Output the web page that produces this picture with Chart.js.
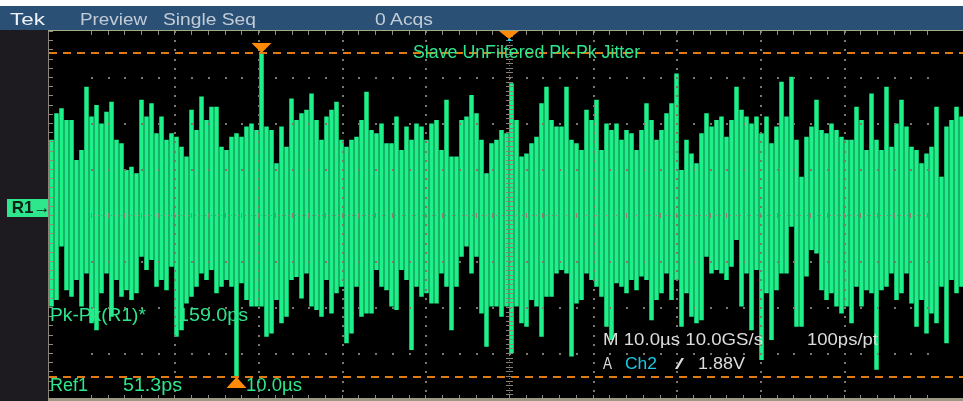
<!DOCTYPE html>
<html>
<head>
<meta charset="utf-8">
<script src="https://cdn.jsdelivr.net/npm/chart.js@4.4.1/dist/chart.umd.min.js"></script>
<style>
  html, body { margin: 0; padding: 0; width: 963px; height: 401px; overflow: hidden; background: #ffffff; }
  #wrap { position: relative; width: 963px; height: 401px; overflow: hidden; }
  #hdr { position: absolute; left: 0; top: 6px; width: 963px; height: 24px; background: #2a5076; }
  #side { position: absolute; left: 0; top: 30px; width: 49px; height: 371px; background: #1e1b20; }
  #scope { position: absolute; left: 0; top: 0; z-index: 1; }
  .t { position: absolute; z-index: 2; white-space: nowrap; line-height: 1;
       font-family: "Liberation Sans", Arial, sans-serif; transform-origin: 0 0; }
  .hd { font-size: 17px; color: #c3ccd6; }
  .gr { font-size: 18px; color: #2ee68c; }
  .wh { font-size: 17px; color: #dcdcdc; }
  #r1 { position: absolute; z-index: 2; left: 7px; top: 199px; width: 41px; height: 18px; background: #2ee68c;
        color: #0e1f17; font: bold 17px "Liberation Sans", Arial, sans-serif; line-height: 18px; }
</style>
</head>
<body>
<div id="wrap">
  <div id="hdr"></div>
  <div id="side"></div>
  <canvas id="scope" width="980" height="401"></canvas>

  <span class="t hd" style="left:10px;top:11px;color:#eef2f7" data-w="35">Tek</span>
  <span class="t hd" style="left:80px;top:11px" data-w="67">Preview</span>
  <span class="t hd" style="left:163px;top:11px" data-w="93">Single Seq</span>
  <span class="t hd" style="left:375px;top:11px" data-w="58">0 Acqs</span>

  <span class="t gr" style="left:413px;top:43px" data-w="227">Slave UnFiltered Pk-Pk Jitter</span>
  <span class="t gr" style="left:50px;top:306px" data-w="96">Pk-Pk(R1)*</span>
  <span class="t gr" style="left:178px;top:306px" data-w="70">159.0ps</span>
  <span class="t gr" style="left:50px;top:376px" data-w="38">Ref1</span>
  <span class="t gr" style="left:123px;top:376px" data-w="59">51.3ps</span>
  <span class="t gr" style="left:246px;top:376px" data-w="56">10.0µs</span>

  <span class="t wh" style="left:603px;top:331px" data-w="160">M 10.0µs 10.0GS/s</span>
  <span class="t wh" style="left:807px;top:331px" data-w="71">100ps/pt</span>
  <span class="t wh" style="left:603px;top:355px" data-w="9">A</span>
  <span class="t wh" style="left:625px;top:355px;color:#1ec8e6" data-w="32">Ch2</span>
  <span class="t wh" style="left:675px;top:356px;font-size:15px" data-w="9">/</span>
  <span class="t wh" style="left:698px;top:355px" data-w="47">1.88V</span>

  <div id="r1">&nbsp;R1&#x2192;</div>
</div>

<script>
// Jitter trend record R1: per-column peak values (ps), 184 columns across 10 divisions.
const jitterHigh = [
  36.9, 49.9, 52.4, 46.6, 46.6, 27.0, 31.9, 63.0, 48.3, 54.0, 44.9, 50.7, 55.6, 36.9, 35.2, 22.1,
  23.7, 20.5, 56.5, 48.3, 54.8, 40.1, 48.3, 36.9, 40.1, 38.4, 33.5, 28.7, 51.6, 41.7, 58.1, 46.6,
  53.1, 53.1, 33.5, 31.9, 38.4, 40.1, 38.4, 43.4, 44.9, 41.7, 79.5, 43.4, 41.7, 25.4,
  43.4, 33.5, 57.2, 46.6, 49.9, 51.6, 59.6, 46.6, 36.9, 48.3, 51.6, 55.6, 36.9, 33.5, 36.9, 38.4,
  46.6, 60.5, 41.7, 40.1, 44.9, 35.2, 35.2, 48.3, 31.9, 43.4, 36.9, 44.9, 43.4, 36.9, 44.9, 46.6,
  31.9, 56.5, 28.7, 28.7, 46.6, 48.3, 58.9, 49.9, 36.9, 20.5, 35.2, 36.9, 41.7, 40.1,
  64.6, 46.6, 28.7, 30.2, 35.2, 38.4, 54.8, 63.0, 46.6, 43.4, 43.4, 63.0, 36.9, 35.2, 31.9, 51.6,
  46.6, 56.5, 31.9, 44.9, 41.7, 44.9, 36.9, 41.7, 40.1, 31.9, 41.7, 54.8, 46.6, 36.9, 41.7, 49.9,
  54.8, 69.5, 22.1, 36.9, 30.2, 25.4, 40.1, 49.9, 43.4, 46.6, 48.3, 38.4, 46.6, 63.0,
  51.6, 48.3, 44.9, 48.3, 40.1, 48.3, 35.2, 43.4, 65.4, 48.3, 67.9, 36.9, 18.8, 38.4, 43.4, 56.5,
  41.7, 40.1, 44.9, 41.7, 38.4, 36.9, 36.9, 53.1, 46.6, 31.9, 59.6, 36.9, 31.9, 63.0, 33.5, 44.9,
  56.5, 43.4, 33.5, 31.9, 25.4, 30.2, 33.5, 53.1, 18.8, 43.4, 46.6, 53.1, 48.3, 36.9
];
const jitterLow = [
  -44.9, -41.7, -15.5, -36.9, -40.1, -31.9, -44.9, -28.7, -53.1, -56.5, -38.4, -28.7, -49.9, -31.9, -40.1, -36.9,
  -41.7, -38.4, -20.5, -27.0, -22.1, -35.2, -31.9, -36.9, -25.4, -59.7, -56.5, -43.4, -40.1, -35.2, -28.7, -31.9,
  -27.0, -38.4, -35.2, -31.9, -35.2, -79.5, -33.5, -41.7, -44.9, -44.9, -44.9, -59.7, -58.1, -41.7,
  -53.1, -49.9, -31.9, -30.4, -41.0, -28.7, -44.9, -46.6, -49.9, -31.9, -48.3, -38.4, -35.2, -63.0, -58.1, -35.2,
  -49.9, -48.3, -48.3, -27.0, -35.2, -36.9, -44.9, -46.6, -27.0, -31.9, -66.3, -35.2, -40.1, -38.4, -43.4, -43.4,
  -28.7, -35.2, -56.5, -35.2, -20.5, -15.5, -28.7, -20.5, -48.3, -64.6, -44.9, -44.9, -49.9, -44.9,
  -67.9, -44.9, -53.1, -54.8, -41.7, -44.9, -59.7, -40.1, -40.1, -28.7, -27.0, -28.7, -69.5, -43.4, -41.7, -28.7,
  -31.9, -35.2, -40.1, -54.8, -61.3, -33.5, -35.2, -38.4, -31.9, -36.9, -30.2, -31.9, -51.6, -41.7, -38.4, -28.7,
  -41.7, -31.9, -54.8, -38.4, -49.9, -53.1, -51.6, -20.5, -28.7, -27.0, -28.7, -31.9, -25.4, -12.3,
  -44.9, -28.7, -56.5, -27.0, -71.2, -38.4, -61.3, -36.9, -28.7, -28.7, -5.8, -54.8, -54.8, -30.2, -17.2, -18.9,
  -36.9, -41.7, -38.4, -44.9, -48.3, -44.9, -53.1, -35.2, -44.9, -36.9, -38.4, -76.0, -36.9, -35.2, -28.7, -41.7,
  -38.4, -28.7, -43.4, -54.8, -41.7, -58.1, -48.3, -53.1, -35.2, -63.0, -31.9, -38.4, -35.2, -41.7
];

// Horizontal: 10 divisions of 10 µs; vertical: 8 divisions.
const timeTicks = [-50, -40, -30, -20, -10, 0, 10, 20, 30, 40, 50];
const jitterTicks = [-90.3, -67.725, -45.15, -22.575, 0, 22.575, 45.15, 67.725, 90.3];

const columns = jitterHigh.map((_, i) => i);
const spans = jitterHigh.map((h, i) => [jitterLow[i], h]);

const peakMax = Math.max(...jitterHigh);
const peakMin = Math.min(...jitterLow);
const iMax = jitterHigh.indexOf(peakMax);
const iMin = jitterLow.indexOf(peakMin);

const tri = (ctx, x, yApex, w, h, down) => {
  ctx.beginPath();
  ctx.moveTo(x, yApex);
  ctx.lineTo(x - w / 2, down ? yApex - h : yApex + h);
  ctx.lineTo(x + w / 2, down ? yApex - h : yApex + h);
  ctx.closePath();
  ctx.fill();
};

const scopePlugin = {
  id: 'scope',
  beforeDraw(chart) {
    const { ctx, chartArea: a } = chart;
    ctx.save();
    ctx.fillStyle = '#000000';
    ctx.fillRect(a.left, a.top, a.right - a.left, a.bottom - a.top);
    ctx.restore();
  },
  afterDatasetsDraw(chart) {
    const { ctx, chartArea: a, scales } = chart;
    const t = scales.t, y = scales.y, x = scales.x;
    const px = v => Math.round(t.getPixelForValue(v));
    const py = v => Math.round(y.getPixelForValue(v));
    const tDiv = timeTicks[1] - timeTicks[0];
    const yDiv = jitterTicks[1] - jitterTicks[0];
    const t0 = timeTicks[0], t1 = timeTicks[timeTicks.length - 1];
    const y0 = jitterTicks[0], y1 = jitterTicks[jitterTicks.length - 1];

    ctx.save();
    // graticule dots
    ctx.fillStyle = '#7c786e';
    timeTicks.forEach(tv => {
      if (tv === 0 || tv === t0 || tv === t1) return;
      const X = px(tv);
      for (let k = 0; k <= 40; k++) ctx.fillRect(X, py(y0 + k * yDiv / 5), 2, 2);
    });
    jitterTicks.forEach(yv => {
      if (yv === 0 || yv === y0 || yv === y1) return;
      const Y = py(yv);
      for (let k = 0; k <= 50; k++) ctx.fillRect(px(t0 + k * tDiv / 5), Y, 2, 2);
    });
    // centre cross with minor ticks
    const Xc = px(0), Yc = py(0);
    ctx.fillStyle = '#8a8278';
    for (let k = 0; k <= 250; k++) ctx.fillRect(px(t0 + k * tDiv / 25), Yc, 1, 1);
    for (let k = 0; k <= 50; k++) ctx.fillRect(px(t0 + k * tDiv / 5), Yc - 2, 1, 5);
    for (let k = 0; k <= 160; k++) ctx.fillRect(Xc, py(y0 + k * yDiv / 20), 1, 1);
    for (let k = 0; k <= 80; k++) ctx.fillRect(Xc - 3, py(y0 + k * yDiv / 10), 7, 1);
    // edge ticks
    ctx.fillStyle = '#8e8a7e';
    for (let k = 0; k <= 50; k++) {
      const X = px(t0 + k * tDiv / 5);
      ctx.fillRect(X, a.top, 1, 4);
      ctx.fillRect(X, a.bottom - 4, 1, 4);
    }
    for (let k = 0; k <= 40; k++) {
      const Y = py(y0 + k * yDiv / 5);
      ctx.fillRect(a.left, Y, 4, 1);
    }
    ctx.fillStyle = '#8a8578';
    ctx.fillRect(a.left - 1, a.top, 1, a.bottom - a.top);
    // frame lines
    ctx.fillStyle = '#a3ab80';
    ctx.fillRect(a.left - 1, a.top - 1, a.right - a.left + 2, 1);
    ctx.fillStyle = '#9c9884';
    ctx.fillRect(a.left - 1, a.bottom - 1, a.right - a.left + 2, 3);

    // peak-to-peak cursors at the record's max and min
    const yTop = y.getPixelForValue(peakMax);
    const yBot = y.getPixelForValue(peakMin);
    ctx.strokeStyle = '#e07a16';
    ctx.lineWidth = 2;
    ctx.setLineDash([8, 6]);
    ctx.beginPath();
    ctx.moveTo(a.left, Math.round(yTop)); ctx.lineTo(a.right, Math.round(yTop));
    ctx.moveTo(a.left, Math.round(yBot)); ctx.lineTo(a.right, Math.round(yBot));
    ctx.stroke();
    ctx.setLineDash([]);

    ctx.fillStyle = '#ff8a0a';
    tri(ctx, x.getPixelForValue(iMax), yTop, 20, 10, true);
    tri(ctx, x.getPixelForValue(iMin), yBot, 20, 11, false);
    // trigger position marker
    tri(ctx, px(0), a.top + 8, 20, 8, true);
    ctx.fillStyle = '#20d0f0';
    ctx.fillRect(px(0) - 1, a.top + 8, 3, 2);
    ctx.restore();
  }
};

new Chart(document.getElementById('scope'), {
  type: 'bar',
  data: {
    labels: columns,
    datasets: [{
      label: 'R1',
      data: spans,
      backgroundColor: '#1ef08a',
      borderWidth: 0,
      barPercentage: 0.9,
      categoryPercentage: 1,
      inflateAmount: 0
    }]
  },
  options: {
    responsive: false,
    animation: false,
    devicePixelRatio: 1,
    layout: { padding: { left: 49, right: 11, top: 31, bottom: 2 } },
    plugins: { legend: { display: false }, tooltip: { enabled: false }, title: { display: false } },
    scales: {
      x: { type: 'category', display: false, offset: true },
      t: { type: 'linear', axis: 'x', position: 'bottom', display: false, min: timeTicks[0], max: timeTicks[timeTicks.length - 1] },
      y: { type: 'linear', display: false, min: jitterTicks[0], max: jitterTicks[jitterTicks.length - 1] }
    }
  },
  plugins: [scopePlugin]
});

// fit each label to its measured span width
document.querySelectorAll('.t[data-w]').forEach(el => {
  const w = el.getBoundingClientRect().width;
  const target = parseFloat(el.dataset.w);
  if (w > 0) el.style.transform = 'scaleX(' + (target / w).toFixed(3) + ')';
});
</script>
</body>
</html>
